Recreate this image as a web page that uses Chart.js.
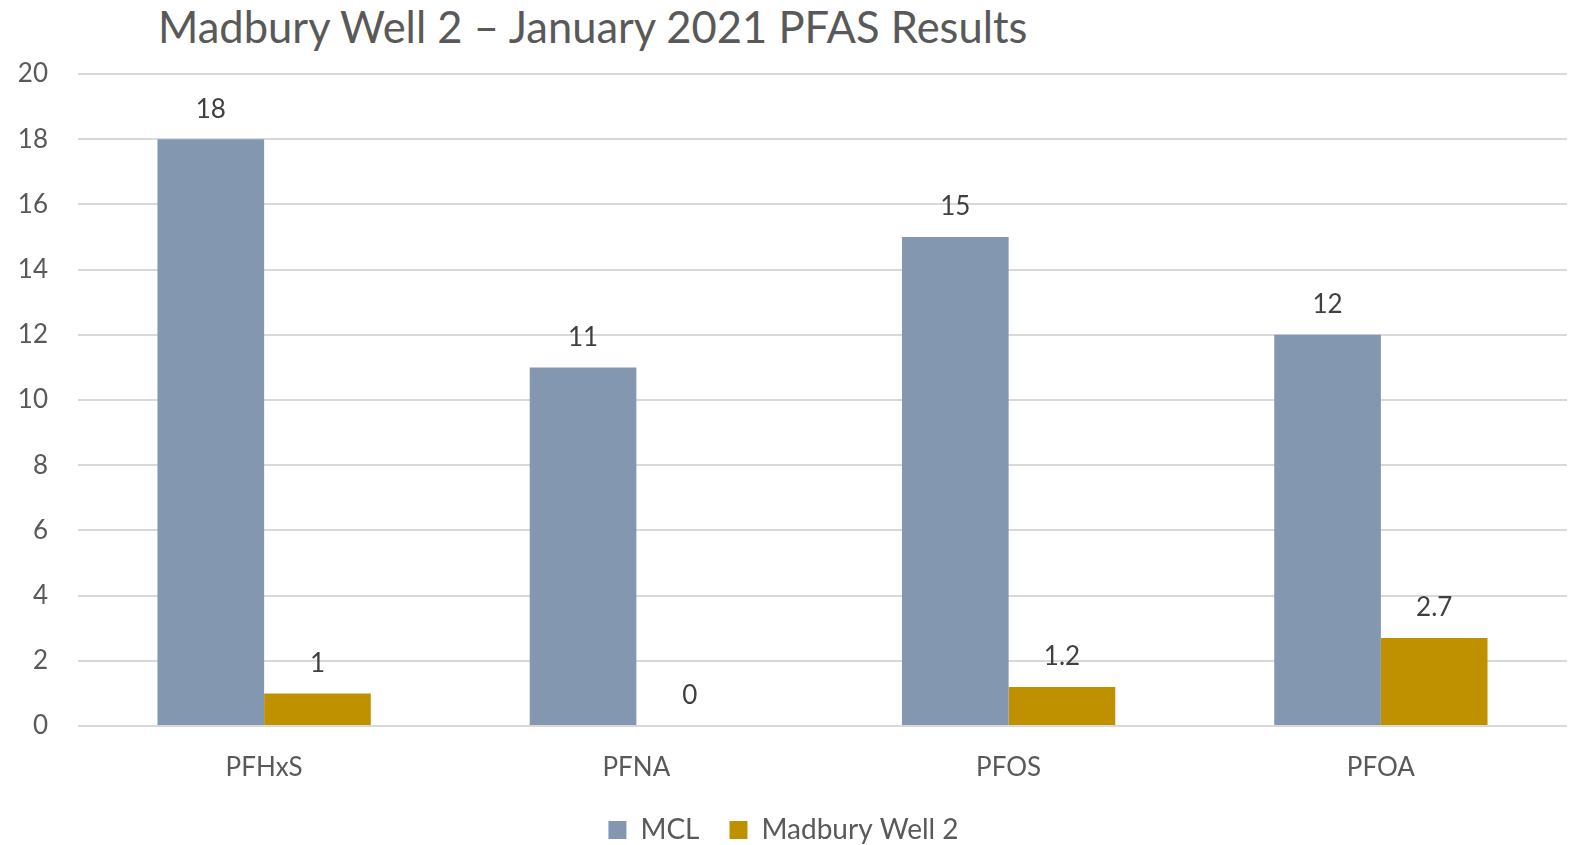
<!DOCTYPE html>
<html><head><meta charset="utf-8">
<script src="https://cdn.jsdelivr.net/npm/chart.js@4"></script>
<style>
html,body{margin:0;padding:0;background:#fff;}
#wrap{position:relative;width:1569px;height:845px;}
#title{position:absolute;left:158px;top:0px;font-family:Lato,sans-serif;font-size:43.5px;color:#595959;line-height:52px;white-space:nowrap;}
canvas{position:absolute;left:0;top:0;}
</style></head>
<body>
<div id="wrap">
<div id="title">Madbury Well 2 – January 2021 PFAS Results</div>
<canvas id="c" width="1569" height="845"></canvas>
</div>
<script>
const categories = ["PFHxS", "PFNA", "PFOS", "PFOA"];
const mclValues = [18, 11, 15, 12];
const wellValues = [1, 0, 1.2, 2.7];
const seriesNames = ["MCL", "Madbury Well 2"];
const yTicks = [0, 2, 4, 6, 8, 10, 12, 14, 16, 18, 20];

const FONT = "Lato, sans-serif";

const valueLabels = {
  id: 'valueLabels',
  afterDatasetsDraw(chart) {
    const ctx = chart.ctx;
    ctx.save();
    ctx.font = "26px " + FONT;
    ctx.fillStyle = "#404040";
    ctx.textAlign = "center";
    ctx.textBaseline = "middle";
    chart.data.datasets.forEach((ds, i) => {
      chart.getDatasetMeta(i).data.forEach((bar, j) => {
        ctx.fillText(String(ds.data[j]), bar.x, bar.y - 30);
      });
    });
    ctx.restore();
  }
};

new Chart(document.getElementById('c'), {
  type: 'bar',
  data: {
    labels: categories,
    datasets: [
      { label: seriesNames[0], data: mclValues, backgroundColor: '#8497B0' },
      { label: seriesNames[1], data: wellValues, backgroundColor: '#BF9000' }
    ]
  },
  options: {
    responsive: false,
    animation: false,
    devicePixelRatio: 1,
    layout: { padding: { top: 74, right: 2, left: 0, bottom: -9 } },
    datasets: { bar: { categoryPercentage: 0.573, barPercentage: 1.0 } },
    plugins: {
      legend: {
        position: 'bottom',
        labels: { font: { family: FONT, size: 28 }, color: '#595959', boxWidth: 18, boxHeight: 18, padding: 30 }
      },
      title: { display: false },
      tooltip: { enabled: false }
    },
    scales: {
      x: {
        grid: { display: false, drawTicks: false },
        border: { display: false },
        ticks: { font: { family: FONT, size: 26 }, color: '#595959', padding: 26 },
        afterFit(s) { s.height = 60; }
      },
      y: {
        min: 0, max: 20,
        afterBuildTicks(s) { s.ticks = yTicks.map(v => ({ value: v })); },
        grid: { color: '#d9d9d9', lineWidth: 2, drawTicks: false },
        border: { display: false },
        ticks: { font: { family: FONT, size: 26 }, color: '#595959', padding: 30 },
        afterFit(s) { s.width = 78; }
      }
    }
  },
  plugins: [valueLabels]
});
</script>
</body></html>
